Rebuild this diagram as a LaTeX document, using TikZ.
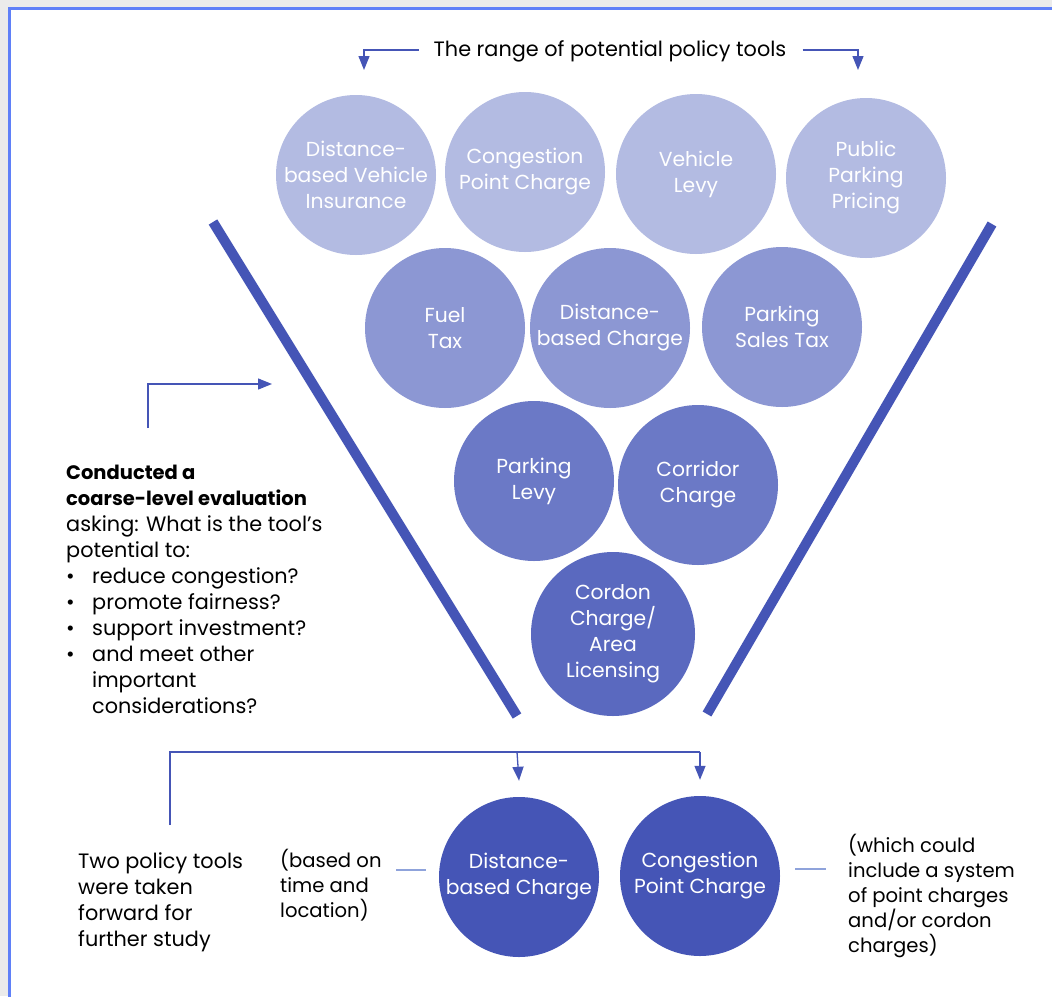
\documentclass[tikz,border=0pt]{standalone}
\usepackage{fontspec}
\setmainfont{Poppins}
\usetikzlibrary{arrows.meta}
\definecolor{bggrey}{HTML}{EBEBEB}
\definecolor{frameblue}{HTML}{5F80F8}
\definecolor{cA}{HTML}{B3BBE2}
\definecolor{cB}{HTML}{8C97D3}
\definecolor{cC}{HTML}{6B79C6}
\definecolor{cD}{HTML}{5A69BF}
\definecolor{cE}{HTML}{4555B6}
\definecolor{linec}{HTML}{4555B6}
\definecolor{dashc}{HTML}{8FA3DB}
\tikzset{
  bubble/.style={circle, minimum size=160pt, inner sep=0pt, text=white, align=center,
    font=\fontsize{20.3}{26}\selectfont},
  label/.style={inner sep=0pt, anchor=base west, align=left, text=black,
    font=\fontsize{20.8}{26}\selectfont},
  note/.style={label, font=\fontsize{19.6}{25}\selectfont},
  funnel/.style={line width=10pt, draw=linec},
  conn/.style={line width=1.3pt, draw=linec},
  tip/.style={-{Triangle[length=14pt,width=11pt]}},
  short/.style={line width=1.3pt, draw=dashc}
}
\begin{document}
\begin{tikzpicture}[x=1pt,y=-1pt]
\useasboundingbox (0,0) rectangle (1052,996);
\clip (0,0) rectangle (1052,996);
\fill[bggrey] (0,0) rectangle (1052,996);
\filldraw[fill=white, draw=frameblue, line width=3pt] (9.5,8.5) rectangle (1080,1030);

% funnel
\draw[funnel] (213,222) -- (517,716);
\draw[funnel] (992,224) -- (707,714);

% title
\node[label, anchor=base] (title) at (610,56) {The range of potential policy tools};
\coordinate (tl) at (364,70);
\coordinate (tr) at (858,70);
\draw[conn, tip] ([xshift=-15pt]title.west |- 0,50) -| (tl);
\draw[conn, tip] ([xshift=16pt]title.east |- 0,50) -| (tr);

% row 1
\node[bubble, fill=cA] (dvi) at (356,175) {Distance-\\based Vehicle\\Insurance};
\node[bubble, fill=cA] (cpc1) at (525,172) {Congestion\\Point Charge};
\node[bubble, fill=cA] (vl) at (696,174) {Vehicle\\Levy};
\node[bubble, fill=cA] (ppp) at (866,178) {Public\\Parking\\Pricing};
% row 2
\node[bubble, fill=cB] (ft) at (445,328) {Fuel\\Tax};
\node[bubble, fill=cB] (dbc1) at (610,328) {Distance-\\based Charge};
\node[bubble, fill=cB] (pst) at (782,327) {Parking\\Sales Tax};
% row 3
\node[bubble, fill=cC] (pl) at (534,481) {Parking\\Levy};
\node[bubble, fill=cC] (cc) at (698,485) {Corridor\\Charge};
% row 4
\node[bubble, fill=cD, minimum size=164pt] (cal) at (613,634) {Cordon\\Charge/\\Area\\Licensing};
% bottom
\node[bubble, fill=cE] (dbc2) at (519,877) {Distance-\\based Charge};
\node[bubble, fill=cE] (cpc2) at (700,876) {Congestion\\Point Charge};

% left arrow
\coordinate (la) at (148,428);
\coordinate (lb) at (272,384);
\draw[conn, tip] (la) |- (lb);

% left text (anchor at baseline of last line)
\node[label] (eval) at (66,713) {{\fontsize{19.5}{26}\selectfont\bfseries Conducted a}\\{\fontsize{19.5}{26}\selectfont\bfseries coarse-level evaluation}\\asking: What is the tool’s\\potential to:\\
\makebox[26pt][l]{•}reduce congestion?\\
\makebox[26pt][l]{•}promote fairness?\\
\makebox[26pt][l]{•}support investment?\\
\makebox[26pt][l]{•}and meet other\\
\hspace*{26pt}important\\
\hspace*{26pt}considerations?};

% bottom bracket
\coordinate (bs) at (170,825);
\coordinate (bm) at (517,752);
\coordinate (be) at (700,752);
\draw[conn] (bs) |- (be);
\draw[conn, tip] (bm) -- ([yshift=16pt]dbc2.north);
\draw[conn, tip] (be) -- ([yshift=16pt]cpc2.north);

% bottom texts (anchor at baseline of last line)
\node[label] (two) at (78,946) {Two policy tools\\were taken\\forward for\\further study};
\node[note] (based) at (280,917) {(based on\\time and\\location)};
\node[note] (which) at (848,952) {(which could\\include a system\\of point charges\\and/or cordon\\charges)};
\coordinate (sl) at (396,870);
\coordinate (sr) at (795,869);
\draw[short] (sl) -- (sl -| 426,0);
\draw[short] (sr) -- (sr -| 826,0);
\end{tikzpicture}
\end{document}
